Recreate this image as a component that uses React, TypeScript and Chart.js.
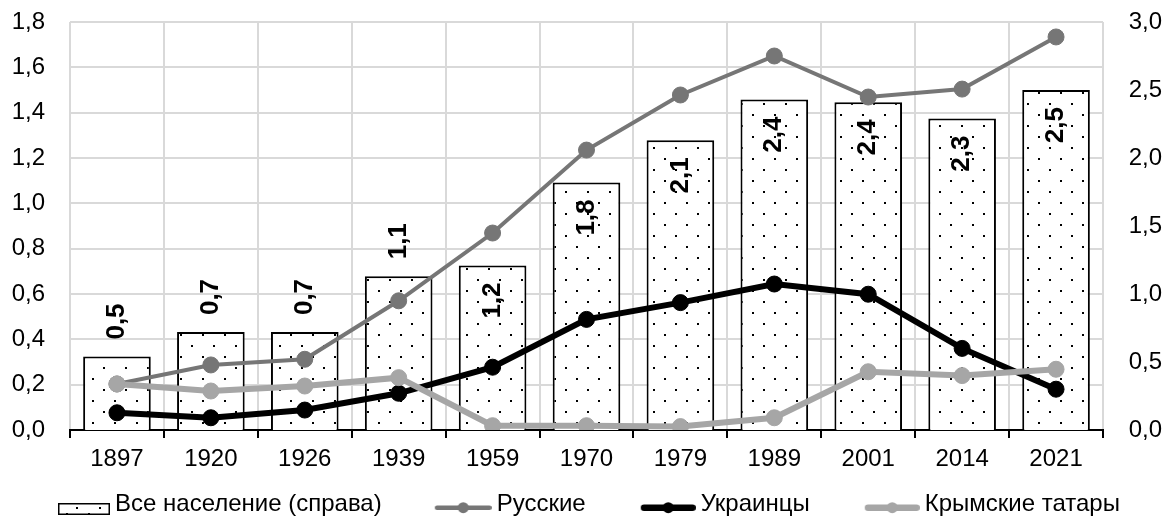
import React, { useEffect, useRef } from 'react';
import { Chart, registerables } from 'chart.js';

Chart.register(...registerables);

// ---- data ----
const years = ['1897', '1920', '1926', '1939', '1959', '1970', '1979', '1989', '2001', '2014', '2021'];
const totalPopulation = [0.54, 0.72, 0.72, 1.13, 1.21, 1.82, 2.13, 2.43, 2.41, 2.29, 2.5];
const russians = [0.203, 0.287, 0.312, 0.57, 0.869, 1.235, 1.478, 1.65, 1.469, 1.504, 1.734];
const ukrainians = [0.076, 0.054, 0.088, 0.162, 0.277, 0.488, 0.562, 0.644, 0.599, 0.36, 0.18];
const crimeanTatars = [0.203, 0.172, 0.194, 0.231, 0.019, 0.019, 0.015, 0.054, 0.257, 0.24, 0.268];
const seriesNames = ['Все население (справа)', 'Русские', 'Украинцы', 'Крымские татары'];

// ---- styles ----
const FONT = "'Liberation Sans', Arial, sans-serif";
const RUS_COLOR = '#767676';
const UKR_COLOR = '#000000';
const TAT_COLOR = '#a6a6a6';
const GRID = '#d9d9d9';
const LABEL_INSIDE_MIN = 1.15;
const LABEL_GAP = 17;
const LEG_BOX = 93;
const LEG_IMG_W = LEG_BOX + 14;
const LEG_IMG_H = 24;

function makeDotTile(): HTMLCanvasElement {
  const c = document.createElement('canvas');
  c.width = 22;
  c.height = 22;
  const g = c.getContext('2d')!;
  g.fillStyle = '#ffffff';
  g.fillRect(0, 0, 22, 22);
  g.fillStyle = '#000000';
  g.fillRect(4, 4, 2, 2);
  g.fillRect(15, 15, 2, 2);
  return c;
}

function barLegendImage(): HTMLCanvasElement {
  const c = document.createElement('canvas');
  c.width = LEG_IMG_W;
  c.height = LEG_IMG_H;
  const g = c.getContext('2d')!;
  const C = 52;
  const x0 = LEG_IMG_W - C;
  g.fillStyle = '#fff';
  g.fillRect(x0, 11, C, 11);
  g.fillStyle = '#000';
  g.fillRect(x0 + 18, 15, 2, 2);
  g.fillRect(x0 + 41, 15, 2, 2);
  g.fillRect(x0 + 8, 21, 2, 2);
  g.fillRect(x0 + 30, 21, 2, 2);
  g.strokeStyle = '#000';
  g.lineWidth = 1.5;
  g.strokeRect(x0 + 0.75, 11.75, C - 1.5, 10.5);
  return c;
}

function lineLegendImage(color: string, lw: number, r: number, C: number): HTMLCanvasElement {
  const c = document.createElement('canvas');
  c.width = LEG_IMG_W;
  c.height = LEG_IMG_H;
  const g = c.getContext('2d')!;
  const y = 15.7;
  const x0 = LEG_IMG_W - C;
  g.strokeStyle = color;
  g.lineWidth = lw;
  g.lineCap = 'round';
  g.beginPath();
  g.moveTo(x0 + lw / 2, y);
  g.lineTo(LEG_IMG_W - lw / 2, y);
  g.stroke();
  g.fillStyle = color;
  g.beginPath();
  g.arc(x0 + C / 2, y, r, 0, Math.PI * 2);
  g.fill();
  return c;
}

const fmt = (v: number) => v.toFixed(1).replace('.', ',');

const barLabelPlugin = {
  id: 'barLabels',
  afterDatasetsDraw(chart: any) {
    const meta = chart.getDatasetMeta(0);
    const ctx = chart.ctx as CanvasRenderingContext2D;
    ctx.save();
    ctx.font = `bold 26px ${FONT}`;
    ctx.fillStyle = '#000';
    ctx.textAlign = 'center';
    ctx.textBaseline = 'middle';
    meta.data.forEach((bar: any, i: number) => {
      const v = totalPopulation[i];
      const txt = fmt(v);
      const w = ctx.measureText(txt).width;
      const { x, y } = bar.getProps(['x', 'y'], true);
      const inside = v >= LABEL_INSIDE_MIN;
      const cy = inside ? y + LABEL_GAP + w / 2 : y - LABEL_GAP - w / 2;
      ctx.save();
      ctx.translate(x, cy);
      ctx.rotate(-Math.PI / 2);
      ctx.fillText(txt, 0, 0);
      ctx.restore();
    });
    ctx.restore();
  },
};

export default function App() {
  const ref = useRef<HTMLCanvasElement | null>(null);

  useEffect(() => {
    const canvas = ref.current;
    if (!canvas) return;
    const ctx = canvas.getContext('2d')!;
    const pattern = ctx.createPattern(makeDotTile(), 'repeat')!;
    const legendImages = [
      barLegendImage(),
      lineLegendImage(RUS_COLOR, 4.5, 5.5, 57),
      lineLegendImage(UKR_COLOR, 6.5, 5.5, 55),
      lineLegendImage(TAT_COLOR, 6.5, 5.5, 55),
    ];

    const chart = new Chart(canvas, {
      type: 'bar',
      data: {
        labels: years,
        datasets: [
          {
            type: 'bar',
            label: seriesNames[0],
            data: totalPopulation,
            yAxisID: 'y2',
            backgroundColor: pattern as any,
            borderColor: '#000',
            borderWidth: 2,
            barPercentage: 0.72,
            categoryPercentage: 1,
            order: 3,
          },
          {
            type: 'line',
            label: seriesNames[1],
            data: russians,
            yAxisID: 'y',
            borderColor: RUS_COLOR,
            backgroundColor: RUS_COLOR,
            borderWidth: 4,
            pointRadius: 8,
            pointBorderWidth: 1,
            pointBackgroundColor: RUS_COLOR,
            pointBorderColor: RUS_COLOR,
            tension: 0,
            order: 2,
          },
          {
            type: 'line',
            label: seriesNames[2],
            data: ukrainians,
            yAxisID: 'y',
            borderColor: UKR_COLOR,
            backgroundColor: UKR_COLOR,
            borderWidth: 6,
            pointRadius: 8,
            pointBorderWidth: 1,
            pointBackgroundColor: UKR_COLOR,
            pointBorderColor: UKR_COLOR,
            tension: 0,
            order: 1,
          },
          {
            type: 'line',
            label: seriesNames[3],
            data: crimeanTatars,
            yAxisID: 'y',
            borderColor: TAT_COLOR,
            backgroundColor: TAT_COLOR,
            borderWidth: 6,
            pointRadius: 8,
            pointBorderWidth: 1,
            pointBackgroundColor: TAT_COLOR,
            pointBorderColor: TAT_COLOR,
            tension: 0,
            order: 0,
          },
        ],
      },
      options: {
        responsive: true,
        maintainAspectRatio: false,
        animation: false,
        events: [],
        layout: { padding: { top: 22, left: 0, right: 7, bottom: 0 } },
        font: { family: FONT },
        scales: {
          x: {
            offset: true,
            grid: {
              color: GRID,
              lineWidth: 2,
              tickColor: '#000',
              tickLength: 8,
              tickWidth: 2,
              offset: true,
            },
            border: { display: true, color: '#000', width: 2 },
            ticks: {
              color: '#000',
              font: { family: FONT, size: 24 },
              padding: 7,
              maxRotation: 0,
              autoSkip: false,
            },
            afterFit: (s: any) => {
              s.height = 52;
            },
          },
          y: {
            position: 'left',
            min: 0,
            max: 1.8,
            ticks: {
              stepSize: 0.2,
              color: '#000',
              font: { family: FONT, size: 24 },
              padding: 25,
              callback: (v: any) => fmt(Number(v)),
            },
            grid: { color: GRID, lineWidth: 2, drawTicks: false },
            border: { display: false },
            afterFit: (s: any) => {
              s.width = 70;
              s.paddingTop = 14;
              s.paddingBottom = 14;
            },
          },
          y2: {
            position: 'right',
            min: 0,
            max: 3,
            ticks: {
              stepSize: 0.5,
              color: '#000',
              font: { family: FONT, size: 24 },
              crossAlign: 'far',
              padding: 0,
              callback: (v: any) => fmt(Number(v)),
            },
            grid: { display: false, drawOnChartArea: false },
            border: { display: false },
            afterFit: (s: any) => {
              s.width = 59;
            },
          },
        },
        plugins: {
          tooltip: { enabled: false },
          legend: {
            position: 'bottom',
            align: 'start',
            maxHeight: 37,
            labels: {
              usePointStyle: true,
              pointStyleWidth: LEG_BOX,
              padding: 10,
              color: '#000',
              font: { family: FONT, size: 24 },
              generateLabels: () =>
                seriesNames.map((name, i) => ({
                  text: name,
                  pointStyle: legendImages[i] as any,
                  fillStyle: 'rgba(0,0,0,0)',
                  strokeStyle: 'rgba(0,0,0,0)',
                  lineWidth: 0,
                  hidden: false,
                  datasetIndex: i,
                  fontColor: '#000',
                })),
            },
          },
        },
      } as any,
      plugins: [barLabelPlugin],
    });

    return () => chart.destroy();
  }, []);

  return (
    <div style={{ position: 'absolute', left: 0, top: 0, width: 1169, height: 519 }}>
      <canvas ref={ref} />
    </div>
  );
}
